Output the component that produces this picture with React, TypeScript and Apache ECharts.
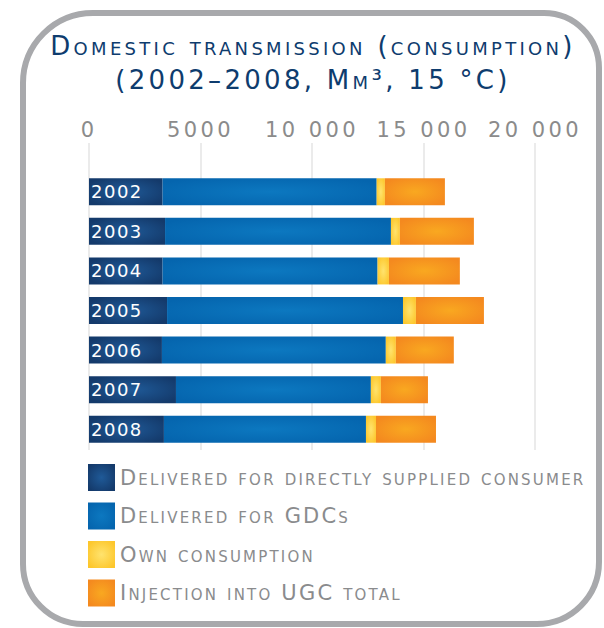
import React, { useEffect, useRef } from "react";
import * as echarts from "echarts";

const years = ["2002", "2003", "2004", "2005", "2006", "2007", "2008"];
const directConsumers = [3300, 3410, 3300, 3500, 3270, 3900, 3360];
const gdcs = [9600, 10130, 9640, 10580, 10040, 8740, 9060];
const ownConsumption = [370, 400, 510, 580, 450, 450, 450];
const ugcInjection = [2690, 3320, 3180, 3050, 2600, 2110, 2690];
const xTickLabels = ["0", "5000", "10 000", "15 000", "20 000"];
const seriesNames = [
  "Delivered for directly supplied consumer",
  "Delivered for GDCs",
  "Own consumption",
  "Injection into UGC total",
];
const titleLine1 = "Domestic transmission (consumption)";
const titleLine2 = "(2002–2008, Mm³, 15 °C)";

const FONT = "DejaVu Sans";
const TITLE_COLOR = "#0e3c6e";
const LEGEND_COLOR = "#8a8b8d";
const AXIS_COLOR = "#8b8b8b";
const YEAR_COLOR = "#fefefe";

const radial = (edge: string, center: string) => ({
  type: "radial",
  x: 0.5,
  y: 0.5,
  r: 0.6,
  colorStops: [
    { offset: 0, color: center },
    { offset: 1, color: edge },
  ],
});

const colors = [
  radial("#143a6b", "#1f5a98"),
  radial("#0565ae", "#0c78c0"),
  radial("#fdc72c", "#ffe36e"),
  radial("#f4891f", "#f9a820"),
];

const css = `
#chartbox text { font-variant: small-caps !important; }
#chartbox text[fill="${TITLE_COLOR}"] { letter-spacing: 3.3px; }
#chartbox text[fill="${LEGEND_COLOR}"] { letter-spacing: 2.2px; }
#chartbox text[fill="${AXIS_COLOR}"] { letter-spacing: 3.4px; }
#chartbox text[fill="${YEAR_COLOR}"] { letter-spacing: 1.5px; }
`;

export default function App() {
  const ref = useRef<HTMLDivElement>(null);
  useEffect(() => {
    if (!ref.current) return;
    const chart = echarts.init(ref.current, undefined, { renderer: "svg" });
    const values = [directConsumers, gdcs, ownConsumption, ugcInjection];
    chart.setOption({
      animation: false,
      graphic: [
        {
          type: "rect",
          shape: { x: 23, y: 13, width: 576, height: 611, r: [70, 55, 62, 60] },
          style: { fill: "none", stroke: "#a8a9ac", lineWidth: 6 },
          z: -10,
        },
        {
          type: "text",
          x: 313,
          y: 46,
          style: {
            text: titleLine1,
            fill: TITLE_COLOR,
            font: `26px ${FONT}`,
            align: "center",
            verticalAlign: "middle",
          },
        },
        {
          type: "text",
          x: 313,
          y: 80,
          style: {
            text: titleLine2,
            fill: TITLE_COLOR,
            font: `26px ${FONT}`,
            align: "center",
            verticalAlign: "middle",
          },
        },
      ],
      legend: {
        orient: "vertical",
        left: 88,
        top: 464,
        padding: 0,
        itemWidth: 27,
        itemHeight: 27,
        itemGap: 11.5,
        icon: "rect",
        textStyle: { color: LEGEND_COLOR, fontSize: 21, fontFamily: FONT },
        data: seriesNames,
      },
      grid: [
        { left: 89, width: 446, top: 143, bottom: 178, containLabel: false },
        { left: 89, width: 446, top: 172, bottom: 179, containLabel: false },
      ],
      xAxis: [
        {
          gridIndex: 0,
          type: "value",
          position: "top",
          min: 0,
          max: 20000,
          interval: 5000,
          axisLine: { show: false },
          axisTick: { show: false },
          splitLine: { show: true, lineStyle: { color: "#e4e4e4", width: 1.5 } },
          axisLabel: {
            color: AXIS_COLOR,
            fontSize: 21,
            fontFamily: FONT,
            margin: 3,
            formatter: (_v: number, i: number) => xTickLabels[i],
          },
        },
        {
          gridIndex: 1,
          type: "value",
          min: 0,
          max: 20000,
          interval: 5000,
          show: false,
          splitLine: { show: false },
        },
      ],
      yAxis: [
        {
          gridIndex: 0,
          type: "category",
          data: years,
          show: false,
        },
        {
          gridIndex: 1,
          type: "category",
          data: years,
          inverse: true,
          show: false,
        },
      ],
      series: seriesNames.map((name, i) => ({
        name,
        type: "bar",
        stack: "total",
        xAxisIndex: 1,
        yAxisIndex: 1,
        barWidth: 27,
        data: values[i],
        itemStyle: { color: colors[i] },
        label:
          i === 0
            ? {
                show: true,
                position: "insideLeft",
                distance: 2,
                formatter: "{b}",
                color: YEAR_COLOR,
                fontSize: 18,
                fontFamily: FONT,
              }
            : { show: false },
        emphasis: { disabled: true },
      })),
    });
    return () => chart.dispose();
  }, []);
  return (
    <>
      <style>{css}</style>
      <div
        id="chartbox"
        ref={ref}
        style={{ position: "absolute", left: 0, top: 0, width: 604, height: 628 }}
      />
    </>
  );
}
